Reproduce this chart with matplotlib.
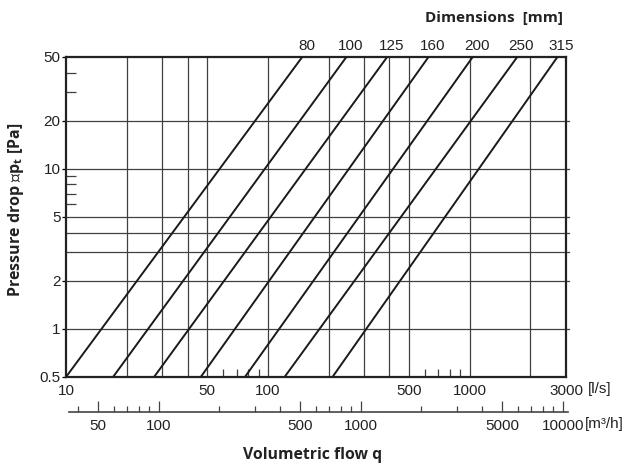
import numpy as np
import matplotlib
matplotlib.use("Agg")
import matplotlib.pyplot as plt
from matplotlib.ticker import FixedLocator, NullFormatter

plt.rcParams['font.family'] = ['Liberation Sans', 'DejaVu Sans']

# -------------------------
# データ
# -------------------------
diameters = ["80", "100", "125", "160", "200", "250", "315"]
q_at_low = [10, 17.1, 27.3, 46.5, 77, 121, 209]          # l/s @ 0.5 Pa
q_at_high = [148, 245, 390, 625, 1035, 1720, 2720]      # l/s @ 50 Pa
dp_low, dp_high = 0.5, 50

x_grid = [20, 30, 40, 50, 100, 200, 300, 400, 500, 1000, 2000]
y_grid = [1, 2, 3, 4, 5, 10, 20]
x_ticks = [10, 50, 100, 500, 1000, 3000]
x_minor = [60, 70, 80, 90, 600, 700, 800, 900]
y_ticks = [0.5, 1, 2, 5, 10, 20, 50]
y_minor = [6, 7, 8, 9, 30, 40]

m3h_ticks = [50, 100, 500, 1000, 5000, 10000]
m3h_minor = [40, 60, 70, 80, 90, 200, 300, 400, 600, 700, 800, 900,
             2000, 3000, 4000, 6000, 7000, 8000, 9000]

W, H = 625, 466
FS = 11
fig = plt.figure(figsize=(W / 100, H / 100), dpi=100)

def px(x0, y0, x1, y1):
    return [x0 / W, 1 - y1 / H, (x1 - x0) / W, (y1 - y0) / H]

ax = fig.add_axes(px(66, 57, 566, 377))
ax.set_xscale("log")
ax.set_yscale("log")
ax.set_xlim(10, 3000)
ax.set_ylim(0.5, 50)

gc = "#404040"
for x in x_grid:
    ax.axvline(x, color=gc, lw=0.9, zorder=1)
for y in y_grid:
    ax.axhline(y, xmin=0, xmax=1.006, color=gc, lw=0.9, zorder=1, clip_on=False)

for d, q0, q1 in zip(diameters, q_at_low, q_at_high):
    ax.plot([q0, q1], [dp_low, dp_high], color="#1a1a1a", lw=1.4, zorder=3,
            solid_capstyle="butt")
    ax.annotate(d, (q1, dp_high), xytext=(3, 3), textcoords="offset points",
                ha="center", va="bottom", fontsize=FS, color="#222222",
                annotation_clip=False)

for s in ax.spines.values():
    s.set_linewidth(1.6)
    s.set_color("#222222")

ax.xaxis.set_major_locator(FixedLocator(x_ticks))
ax.xaxis.set_ticklabels([str(v) for v in x_ticks])
ax.xaxis.set_minor_locator(FixedLocator(x_minor))
ax.xaxis.set_minor_formatter(NullFormatter())
ax.tick_params(axis="x", which="major", length=0, pad=5, labelsize=FS,
               labelcolor="#222222")
ax.tick_params(axis="x", which="minor", direction="in", length=6, width=0.9,
               color=gc)

ax.yaxis.set_major_locator(FixedLocator(y_ticks))
ax.yaxis.set_ticklabels([f"{v:g}" for v in y_ticks])
ax.yaxis.set_minor_locator(FixedLocator(y_minor))
ax.yaxis.set_minor_formatter(NullFormatter())
ax.tick_params(axis="y", which="major", direction="out", length=3, width=0.9,
               pad=1, labelsize=FS, labelcolor="#222222")
ax.tick_params(axis="y", which="minor", direction="in", length=7, width=0.9,
               color=gc)

# m3/h 軸 (l/s * 3.6)
ax2 = fig.add_axes(px(69, 411.99, 568, 412))
ax2.set_xscale("log")
ax2.set_xlim(10 * 3.6, 10628)
ax2.set_yticks([])
for k in ["top", "left", "right"]:
    ax2.spines[k].set_visible(False)
ax2.spines["bottom"].set_linewidth(1.2)
ax2.spines["bottom"].set_color("#444444")
ax2.patch.set_visible(False)
ax2.xaxis.set_major_locator(FixedLocator(m3h_ticks))
ax2.xaxis.set_ticklabels([str(v) for v in m3h_ticks])
ax2.xaxis.set_minor_locator(FixedLocator(m3h_minor))
ax2.xaxis.set_minor_formatter(NullFormatter())
ax2.tick_params(axis="x", which="major", direction="in", length=8, width=0.9,
                pad=5, labelsize=FS, labelcolor="#222222", color="#444444")
ax2.tick_params(axis="x", which="minor", direction="in", length=4, width=0.9,
                color="#444444")

fig.text(588 / W, 1 - 389 / H, "[l/s]", ha="left", va="center",
         fontsize=FS, color="#222222")
fig.text(585 / W, 1 - 424 / H, "[m³/h]", ha="left", va="center",
         fontsize=FS, color="#222222")

bold = ['Open Sans', 'DejaVu Sans']
fig.text(494 / W, 1 - 18 / H, "Dimensions  [mm]", ha="center", va="center",
         fontsize=11, fontweight="bold", family=bold, color="#222222")
fig.text(313 / W, 1 - 455 / H, "Volumetric flow q", ha="center", va="center",
         fontsize=11.3, fontweight="bold", family=bold, color="#222222")
fig.text(16 / W, 1 - 210 / H, "Pressure drop ⊠p$_\\mathregular{t}$ [Pa]",
         ha="center", va="center", rotation=90, fontsize=11.5,
         fontweight="bold", family=bold, color="#222222")

fig.savefig("out.png", dpi=100)
